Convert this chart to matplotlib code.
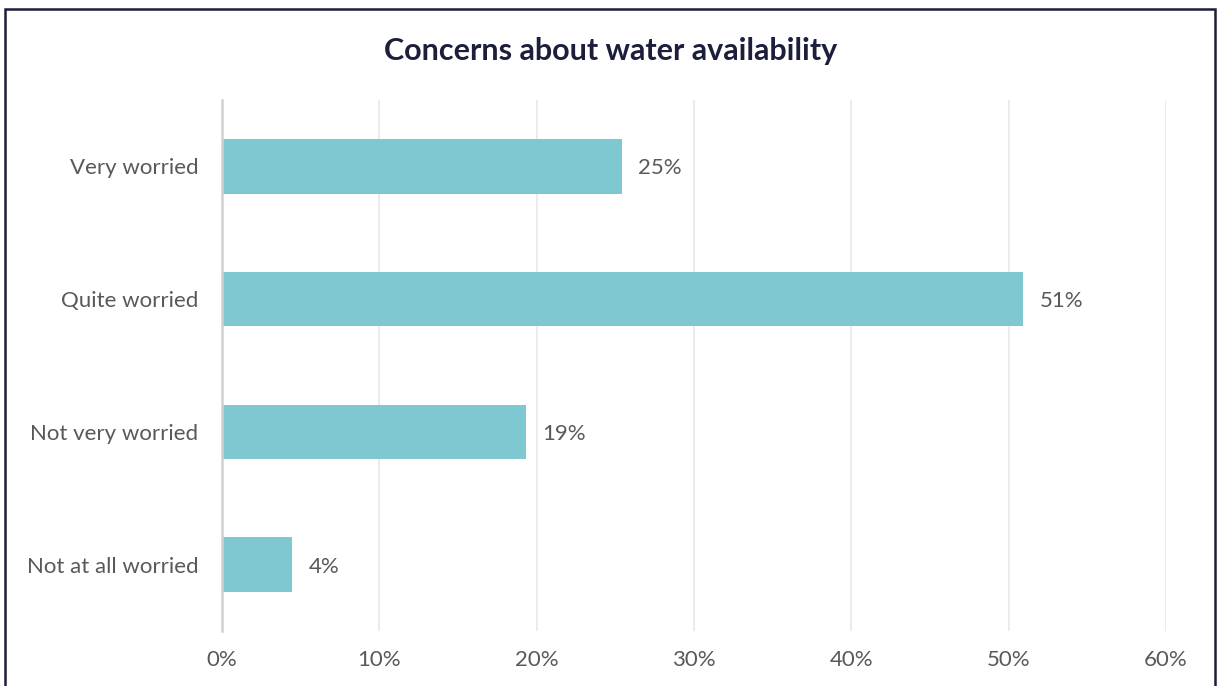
import matplotlib.pyplot as plt
from matplotlib.patches import Rectangle

# survey responses, share of respondents (%)
categories = ["Very worried", "Quite worried", "Not very worried", "Not at all worried"]
shares = [25.4, 50.9, 19.3, 4.45]
ticks = [0, 10, 20, 30, 40, 50, 60]

bar_color = "#80c8d1"
text_grey = "#595959"
navy = "#1b1f3b"

plt.rcParams["font.family"] = ["Lato", "DejaVu Sans"]

fig = plt.figure(figsize=(12.21, 6.86), dpi=100)
ax = fig.add_axes([0.1818, 0.0802, 0.7731, 0.774])

ypos = list(range(len(categories)))
bars = ax.barh(ypos, shares, height=0.41, color=bar_color, zorder=3)
ax.set_ylim(len(categories) - 0.5, -0.5)
ax.set_xlim(0, 60)

for b, v in zip(bars, shares):
    ax.annotate(f"{v:.0f}%", (b.get_width(), b.get_y() + b.get_height() / 2),
                xytext=(12, -1.5), textcoords="offset points", va="center", ha="left",
                fontsize=16, color=text_grey)

ax.set_yticks(ypos)
ax.set_yticklabels(categories, fontsize=16, color=text_grey)
ax.set_xticks(ticks)
ax.set_xticklabels([f"{t}%" for t in ticks], fontsize=16, color=text_grey)
ax.tick_params(axis="both", length=0)
ax.tick_params(axis="y", pad=17)
ax.tick_params(axis="x", pad=14)

ax.grid(axis="x", color="#e8e8e8", linewidth=1.2, zorder=0)
for side in ["top", "right", "bottom"]:
    ax.spines[side].set_visible(False)
ax.spines["left"].set_color("#d0d0d0")
ax.spines["left"].set_linewidth(1.8)
ax.spines["left"].set_zorder(4)

fig.text(0.5, 0.925, "Concerns about water availability", ha="center", va="center",
         fontsize=22, fontweight="bold", color=navy)

# frame around the chart (bottom edge runs off the canvas)
fig.patches.append(Rectangle((5 / 1221, -0.05), 1210 / 1221, 1.05 - 9 / 686,
                             transform=fig.transFigure, fill=False,
                             edgecolor=navy, linewidth=1.8))

fig.savefig("out.png", dpi=100, facecolor="white")
